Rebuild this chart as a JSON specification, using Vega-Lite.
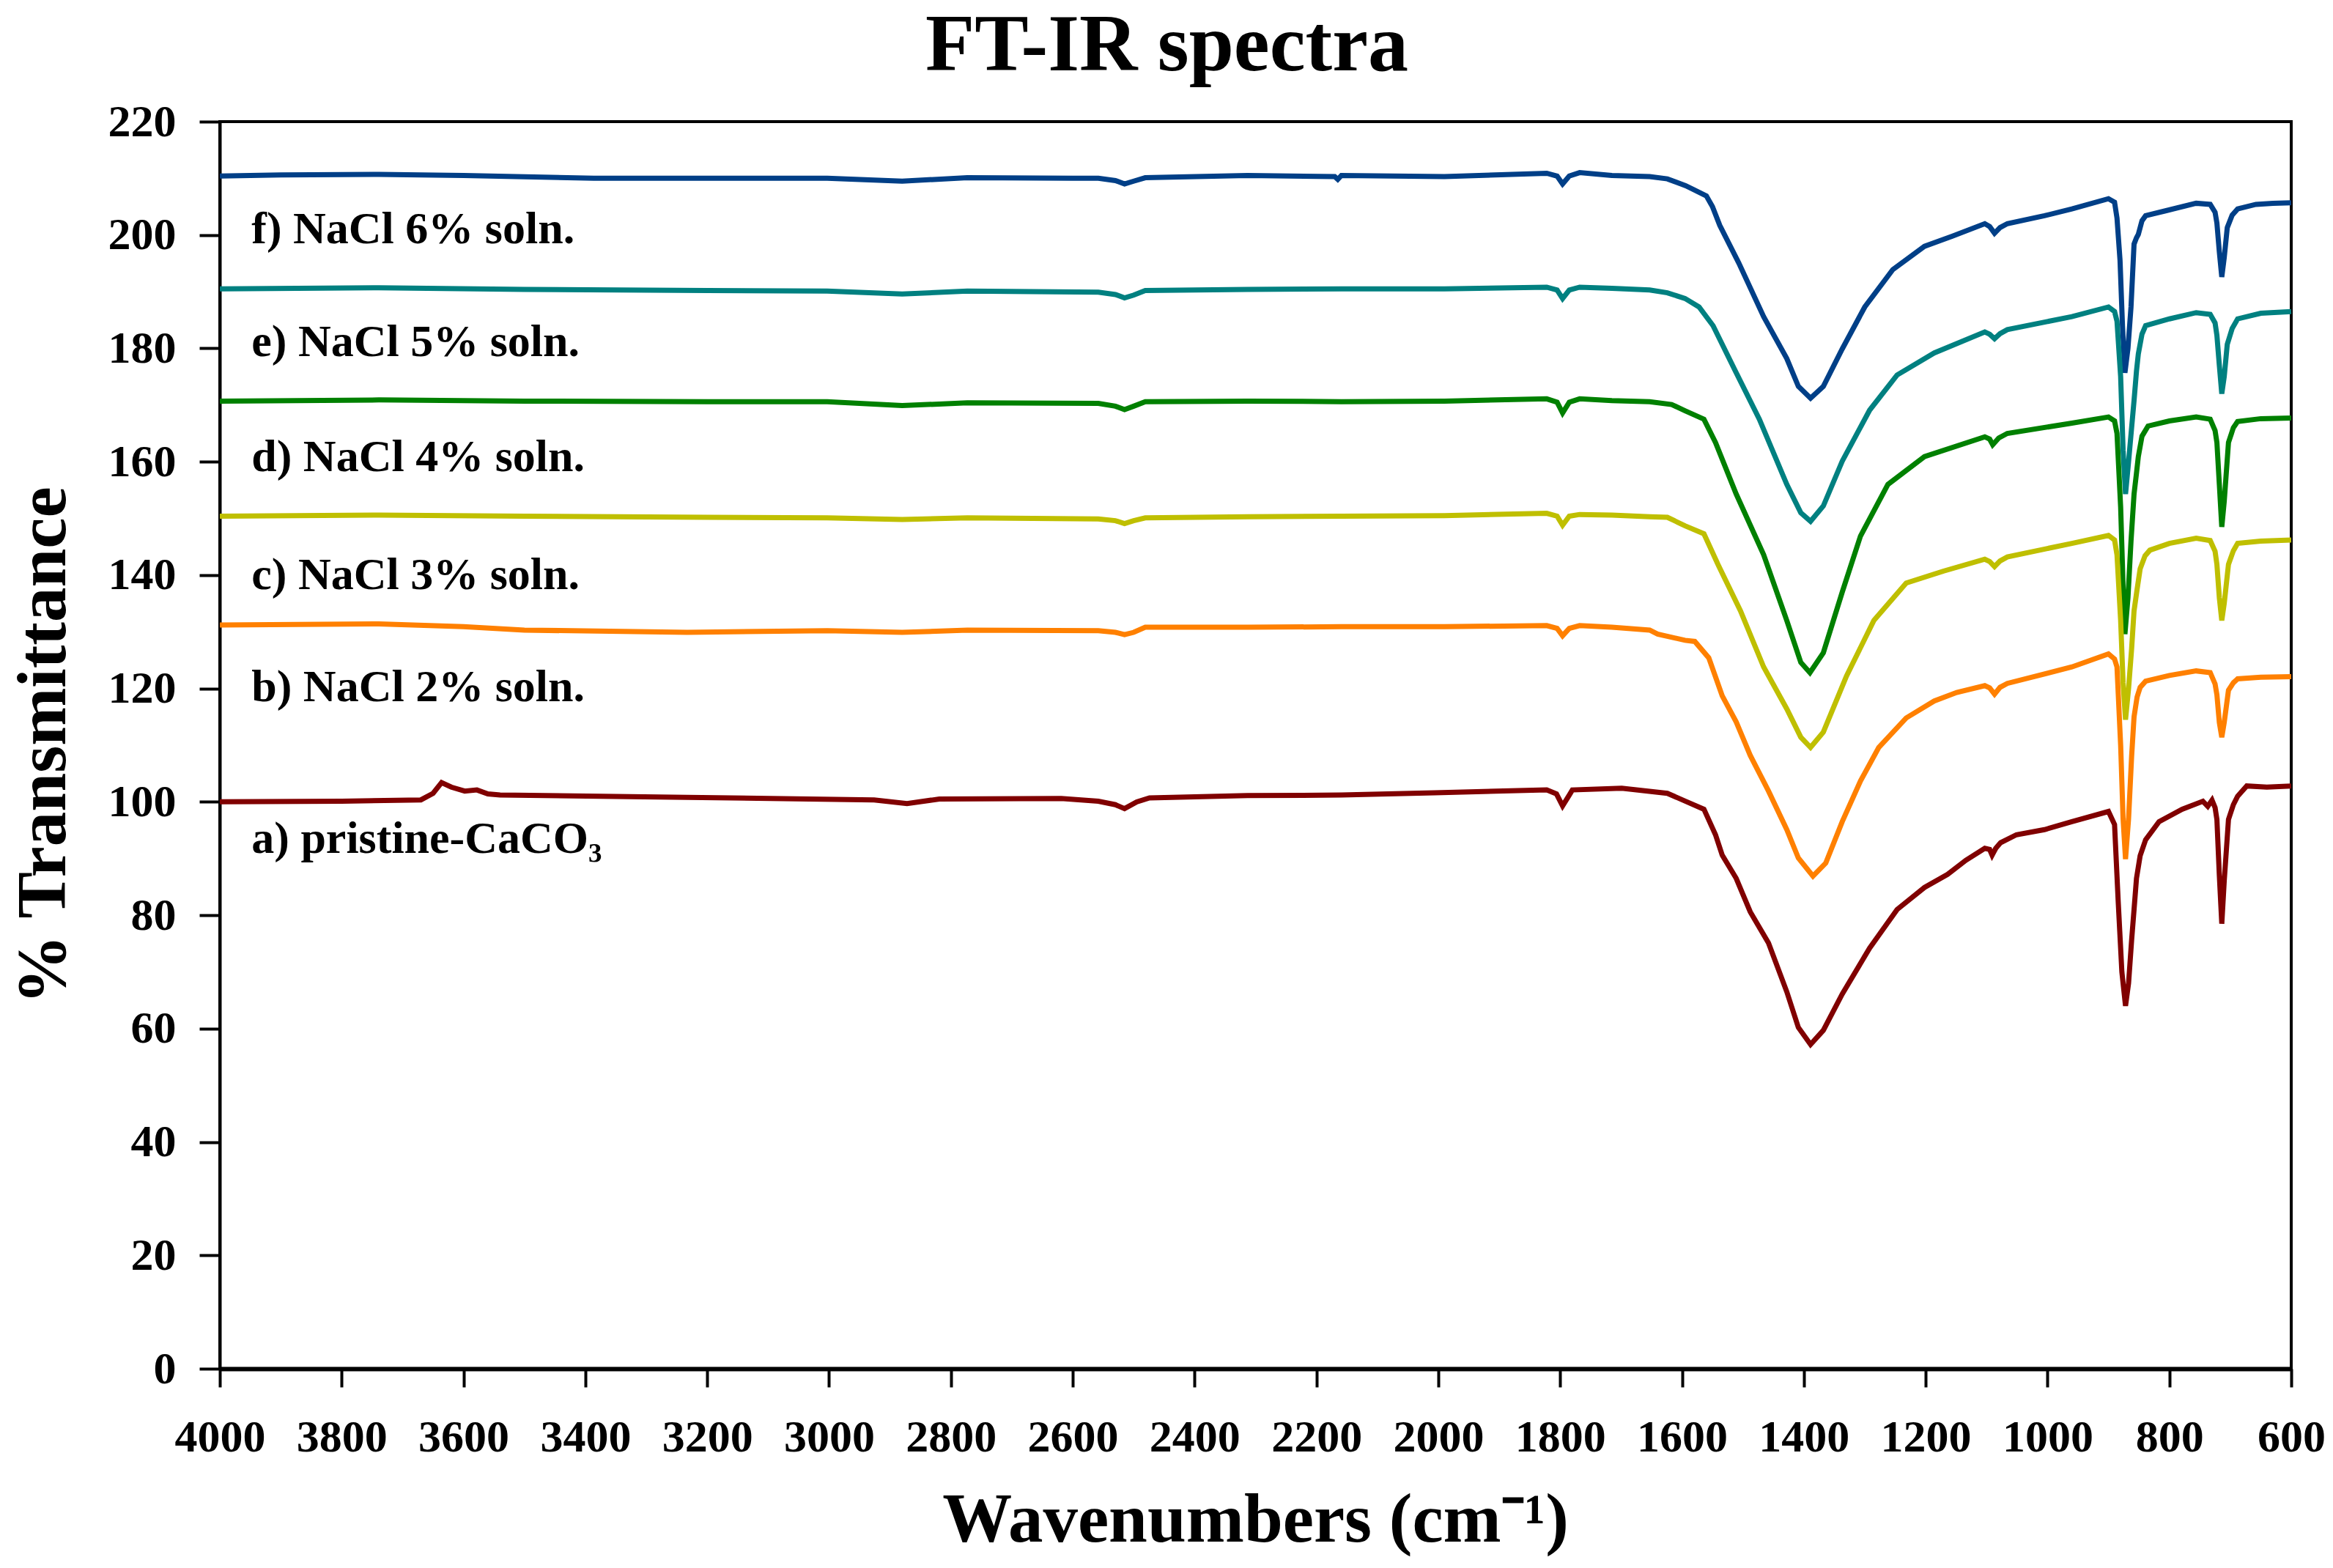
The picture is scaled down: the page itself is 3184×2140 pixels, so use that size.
{
"$schema": "https://vega.github.io/schema/vega-lite/v6.json",
"width": 2827, "height": 1702,
"autosize": {"type": "none"},
"padding": {"left": 300, "top": 166, "right": 57, "bottom": 272},
"background": "white",
"title": {"text": "FT-IR spectra", "font": "Liberation Serif", "fontSize": 110, "fontWeight": "bold", "color": "black", "anchor": "middle", "frame": "group", "dx": -121, "baseline": "alphabetic", "offset": -71},
"config": {"view": {"stroke": "black", "strokeWidth": 4}, "font": "Liberation Serif"},
"datasets": {
"spectra": [
{"s":"f","w":4000,"t":210.4},{"s":"f","w":3900,"t":210.6},{"s":"f","w":3739,"t":210.7},{"s":"f","w":3600,"t":210.5},{"s":"f","w":3386,"t":210.0},{"s":"f","w":3200,"t":210.0},{"s":"f","w":3003,"t":210.0},{"s":"f","w":2880,"t":209.5},{"s":"f","w":2773,"t":210.1},{"s":"f","w":2600,"t":210.0},{"s":"f","w":2558,"t":210.0},{"s":"f","w":2530,"t":209.6},{"s":"f","w":2515,"t":209.0},{"s":"f","w":2500,"t":209.5},{"s":"f","w":2481,"t":210.1},{"s":"f","w":2313,"t":210.5},{"s":"f","w":2170,"t":210.3},{"s":"f","w":2165,"t":209.8},{"s":"f","w":2159,"t":210.5},{"s":"f","w":1990,"t":210.3},{"s":"f","w":1822,"t":210.9},{"s":"f","w":1805,"t":210.4},{"s":"f","w":1796,"t":209.0},{"s":"f","w":1785,"t":210.4},{"s":"f","w":1768,"t":211.0},{"s":"f","w":1715,"t":210.5},{"s":"f","w":1653,"t":210.3},{"s":"f","w":1624,"t":209.9},{"s":"f","w":1594,"t":208.7},{"s":"f","w":1560,"t":206.9},{"s":"f","w":1550,"t":205.0},{"s":"f","w":1538,"t":201.7},{"s":"f","w":1507,"t":195.1},{"s":"f","w":1466,"t":185.6},{"s":"f","w":1428,"t":178.2},{"s":"f","w":1409,"t":173.3},{"s":"f","w":1389,"t":171.2},{"s":"f","w":1368,"t":173.3},{"s":"f","w":1337,"t":179.9},{"s":"f","w":1300,"t":187.3},{"s":"f","w":1254,"t":193.9},{"s":"f","w":1202,"t":198.0},{"s":"f","w":1156,"t":199.8},{"s":"f","w":1103,"t":202.0},{"s":"f","w":1095,"t":201.5},{"s":"f","w":1087,"t":200.3},{"s":"f","w":1078,"t":201.3},{"s":"f","w":1066,"t":202.0},{"s":"f","w":1005,"t":203.4},{"s":"f","w":960,"t":204.6},{"s":"f","w":900,"t":206.4},{"s":"f","w":890,"t":205.8},{"s":"f","w":886,"t":203.0},{"s":"f","w":881,"t":195.5},{"s":"f","w":877,"t":184.0},{"s":"f","w":873,"t":175.7},{"s":"f","w":868,"t":180.0},{"s":"f","w":863,"t":187.3},{"s":"f","w":858,"t":198.4},{"s":"f","w":854,"t":199.5},{"s":"f","w":851,"t":200.1},{"s":"f","w":845,"t":202.5},{"s":"f","w":839,"t":203.4},{"s":"f","w":809,"t":204.2},{"s":"f","w":756,"t":205.6},{"s":"f","w":733,"t":205.4},{"s":"f","w":725,"t":204.0},{"s":"f","w":722,"t":202.1},{"s":"f","w":718,"t":197.0},{"s":"f","w":714,"t":192.6},{"s":"f","w":710,"t":196.0},{"s":"f","w":705,"t":201.3},{"s":"f","w":697,"t":203.5},{"s":"f","w":688,"t":204.6},{"s":"f","w":658,"t":205.4},{"s":"f","w":630,"t":205.6},{"s":"f","w":600,"t":205.7},
{"s":"e","w":4000,"t":190.5},{"s":"e","w":3739,"t":190.7},{"s":"e","w":3500,"t":190.4},{"s":"e","w":3200,"t":190.2},{"s":"e","w":3003,"t":190.1},{"s":"e","w":2880,"t":189.6},{"s":"e","w":2773,"t":190.1},{"s":"e","w":2558,"t":189.9},{"s":"e","w":2530,"t":189.5},{"s":"e","w":2515,"t":188.9},{"s":"e","w":2500,"t":189.4},{"s":"e","w":2481,"t":190.2},{"s":"e","w":2313,"t":190.4},{"s":"e","w":2159,"t":190.5},{"s":"e","w":1990,"t":190.5},{"s":"e","w":1822,"t":190.8},{"s":"e","w":1805,"t":190.3},{"s":"e","w":1796,"t":188.8},{"s":"e","w":1785,"t":190.3},{"s":"e","w":1768,"t":190.8},{"s":"e","w":1715,"t":190.6},{"s":"e","w":1653,"t":190.3},{"s":"e","w":1624,"t":189.8},{"s":"e","w":1595,"t":188.8},{"s":"e","w":1572,"t":187.3},{"s":"e","w":1549,"t":184.0},{"s":"e","w":1511,"t":175.7},{"s":"e","w":1473,"t":167.5},{"s":"e","w":1428,"t":156.0},{"s":"e","w":1405,"t":151.0},{"s":"e","w":1389,"t":149.5},{"s":"e","w":1368,"t":152.2},{"s":"e","w":1337,"t":160.1},{"s":"e","w":1292,"t":169.1},{"s":"e","w":1247,"t":175.3},{"s":"e","w":1186,"t":179.2},{"s":"e","w":1103,"t":182.9},{"s":"e","w":1095,"t":182.5},{"s":"e","w":1087,"t":181.7},{"s":"e","w":1078,"t":182.6},{"s":"e","w":1066,"t":183.3},{"s":"e","w":960,"t":185.6},{"s":"e","w":900,"t":187.3},{"s":"e","w":890,"t":186.5},{"s":"e","w":886,"t":184.8},{"s":"e","w":880,"t":175.0},{"s":"e","w":876,"t":162.0},{"s":"e","w":872,"t":154.3},{"s":"e","w":867,"t":160.0},{"s":"e","w":862,"t":166.0},{"s":"e","w":858,"t":170.8},{"s":"e","w":854,"t":176.0},{"s":"e","w":851,"t":179.0},{"s":"e","w":845,"t":182.5},{"s":"e","w":839,"t":184.0},{"s":"e","w":800,"t":185.2},{"s":"e","w":756,"t":186.3},{"s":"e","w":733,"t":186.0},{"s":"e","w":725,"t":184.5},{"s":"e","w":722,"t":182.3},{"s":"e","w":718,"t":177.0},{"s":"e","w":714,"t":172.0},{"s":"e","w":710,"t":175.0},{"s":"e","w":705,"t":180.7},{"s":"e","w":697,"t":183.5},{"s":"e","w":688,"t":185.2},{"s":"e","w":650,"t":186.2},{"s":"e","w":600,"t":186.5},
{"s":"d","w":4000,"t":170.7},{"s":"d","w":3739,"t":170.9},{"s":"d","w":3500,"t":170.7},{"s":"d","w":3200,"t":170.6},{"s":"d","w":3003,"t":170.6},{"s":"d","w":2880,"t":169.9},{"s":"d","w":2773,"t":170.4},{"s":"d","w":2558,"t":170.3},{"s":"d","w":2530,"t":169.8},{"s":"d","w":2515,"t":169.2},{"s":"d","w":2500,"t":169.8},{"s":"d","w":2481,"t":170.6},{"s":"d","w":2313,"t":170.7},{"s":"d","w":2159,"t":170.6},{"s":"d","w":1990,"t":170.7},{"s":"d","w":1822,"t":171.1},{"s":"d","w":1805,"t":170.5},{"s":"d","w":1796,"t":168.6},{"s":"d","w":1785,"t":170.5},{"s":"d","w":1768,"t":171.1},{"s":"d","w":1715,"t":170.8},{"s":"d","w":1653,"t":170.6},{"s":"d","w":1617,"t":170.1},{"s":"d","w":1595,"t":169.0},{"s":"d","w":1564,"t":167.5},{"s":"d","w":1545,"t":163.4},{"s":"d","w":1511,"t":154.3},{"s":"d","w":1466,"t":143.6},{"s":"d","w":1428,"t":132.0},{"s":"d","w":1405,"t":124.6},{"s":"d","w":1390,"t":122.8},{"s":"d","w":1368,"t":126.3},{"s":"d","w":1337,"t":137.0},{"s":"d","w":1307,"t":146.9},{"s":"d","w":1262,"t":156.0},{"s":"d","w":1202,"t":160.9},{"s":"d","w":1103,"t":164.4},{"s":"d","w":1095,"t":164.0},{"s":"d","w":1090,"t":163.0},{"s":"d","w":1080,"t":164.2},{"s":"d","w":1066,"t":165.0},{"s":"d","w":960,"t":166.8},{"s":"d","w":900,"t":167.9},{"s":"d","w":890,"t":167.2},{"s":"d","w":886,"t":165.0},{"s":"d","w":880,"t":152.0},{"s":"d","w":876,"t":138.0},{"s":"d","w":873,"t":129.6},{"s":"d","w":868,"t":136.0},{"s":"d","w":863,"t":146.0},{"s":"d","w":858,"t":154.3},{"s":"d","w":854,"t":158.0},{"s":"d","w":851,"t":160.9},{"s":"d","w":845,"t":164.5},{"s":"d","w":835,"t":166.3},{"s":"d","w":800,"t":167.2},{"s":"d","w":756,"t":167.9},{"s":"d","w":733,"t":167.5},{"s":"d","w":725,"t":165.5},{"s":"d","w":722,"t":163.4},{"s":"d","w":718,"t":156.0},{"s":"d","w":714,"t":148.5},{"s":"d","w":710,"t":153.0},{"s":"d","w":703,"t":163.4},{"s":"d","w":695,"t":166.0},{"s":"d","w":688,"t":167.1},{"s":"d","w":650,"t":167.6},{"s":"d","w":600,"t":167.7},
{"s":"c","w":4000,"t":150.4},{"s":"c","w":3739,"t":150.6},{"s":"c","w":3500,"t":150.4},{"s":"c","w":3200,"t":150.2},{"s":"c","w":3003,"t":150.1},{"s":"c","w":2880,"t":149.8},{"s":"c","w":2773,"t":150.1},{"s":"c","w":2558,"t":149.9},{"s":"c","w":2530,"t":149.6},{"s":"c","w":2515,"t":149.1},{"s":"c","w":2500,"t":149.6},{"s":"c","w":2481,"t":150.1},{"s":"c","w":2313,"t":150.3},{"s":"c","w":2159,"t":150.4},{"s":"c","w":1990,"t":150.5},{"s":"c","w":1822,"t":150.9},{"s":"c","w":1805,"t":150.4},{"s":"c","w":1796,"t":148.8},{"s":"c","w":1785,"t":150.4},{"s":"c","w":1768,"t":150.7},{"s":"c","w":1715,"t":150.6},{"s":"c","w":1653,"t":150.3},{"s":"c","w":1624,"t":150.2},{"s":"c","w":1595,"t":148.7},{"s":"c","w":1564,"t":147.3},{"s":"c","w":1541,"t":141.9},{"s":"c","w":1504,"t":133.7},{"s":"c","w":1466,"t":123.8},{"s":"c","w":1428,"t":116.4},{"s":"c","w":1405,"t":111.4},{"s":"c","w":1389,"t":109.6},{"s":"c","w":1368,"t":112.3},{"s":"c","w":1330,"t":122.2},{"s":"c","w":1285,"t":132.0},{"s":"c","w":1232,"t":138.6},{"s":"c","w":1171,"t":140.7},{"s":"c","w":1103,"t":142.8},{"s":"c","w":1095,"t":142.4},{"s":"c","w":1087,"t":141.5},{"s":"c","w":1078,"t":142.5},{"s":"c","w":1066,"t":143.2},{"s":"c","w":960,"t":145.6},{"s":"c","w":900,"t":147.0},{"s":"c","w":890,"t":146.2},{"s":"c","w":886,"t":143.6},{"s":"c","w":880,"t":132.0},{"s":"c","w":876,"t":121.0},{"s":"c","w":872,"t":114.5},{"s":"c","w":867,"t":120.0},{"s":"c","w":862,"t":127.0},{"s":"c","w":858,"t":133.7},{"s":"c","w":853,"t":137.5},{"s":"c","w":848,"t":141.1},{"s":"c","w":840,"t":143.4},{"s":"c","w":832,"t":144.4},{"s":"c","w":800,"t":145.6},{"s":"c","w":756,"t":146.5},{"s":"c","w":733,"t":146.1},{"s":"c","w":725,"t":144.2},{"s":"c","w":722,"t":141.9},{"s":"c","w":718,"t":136.0},{"s":"c","w":714,"t":132.0},{"s":"c","w":710,"t":135.0},{"s":"c","w":703,"t":141.9},{"s":"c","w":695,"t":144.3},{"s":"c","w":688,"t":145.6},{"s":"c","w":650,"t":146.0},{"s":"c","w":600,"t":146.2},
{"s":"b","w":4000,"t":131.2},{"s":"b","w":3739,"t":131.4},{"s":"b","w":3600,"t":130.9},{"s":"b","w":3500,"t":130.3},{"s":"b","w":3233,"t":129.9},{"s":"b","w":3003,"t":130.2},{"s":"b","w":2880,"t":129.9},{"s":"b","w":2773,"t":130.3},{"s":"b","w":2558,"t":130.2},{"s":"b","w":2530,"t":129.9},{"s":"b","w":2515,"t":129.5},{"s":"b","w":2500,"t":129.9},{"s":"b","w":2481,"t":130.8},{"s":"b","w":2313,"t":130.8},{"s":"b","w":2159,"t":130.9},{"s":"b","w":1990,"t":130.9},{"s":"b","w":1822,"t":131.1},{"s":"b","w":1805,"t":130.6},{"s":"b","w":1796,"t":129.3},{"s":"b","w":1785,"t":130.6},{"s":"b","w":1768,"t":131.1},{"s":"b","w":1715,"t":130.8},{"s":"b","w":1653,"t":130.3},{"s":"b","w":1640,"t":129.6},{"s":"b","w":1595,"t":128.5},{"s":"b","w":1579,"t":128.3},{"s":"b","w":1556,"t":125.4},{"s":"b","w":1534,"t":118.7},{"s":"b","w":1511,"t":114.1},{"s":"b","w":1488,"t":108.2},{"s":"b","w":1458,"t":101.9},{"s":"b","w":1428,"t":95.1},{"s":"b","w":1409,"t":90.1},{"s":"b","w":1385,"t":86.9},{"s":"b","w":1364,"t":89.2},{"s":"b","w":1337,"t":96.5},{"s":"b","w":1307,"t":103.7},{"s":"b","w":1277,"t":109.6},{"s":"b","w":1232,"t":114.8},{"s":"b","w":1186,"t":117.8},{"s":"b","w":1149,"t":119.3},{"s":"b","w":1103,"t":120.5},{"s":"b","w":1095,"t":120.1},{"s":"b","w":1087,"t":119.0},{"s":"b","w":1078,"t":120.2},{"s":"b","w":1066,"t":120.9},{"s":"b","w":960,"t":123.8},{"s":"b","w":900,"t":126.1},{"s":"b","w":890,"t":125.2},{"s":"b","w":886,"t":123.8},{"s":"b","w":880,"t":110.0},{"s":"b","w":876,"t":97.0},{"s":"b","w":872,"t":89.9},{"s":"b","w":867,"t":97.0},{"s":"b","w":862,"t":108.0},{"s":"b","w":858,"t":115.0},{"s":"b","w":853,"t":118.5},{"s":"b","w":848,"t":120.2},{"s":"b","w":839,"t":121.3},{"s":"b","w":800,"t":122.3},{"s":"b","w":756,"t":123.1},{"s":"b","w":733,"t":122.8},{"s":"b","w":725,"t":120.8},{"s":"b","w":722,"t":118.9},{"s":"b","w":718,"t":114.0},{"s":"b","w":714,"t":111.4},{"s":"b","w":710,"t":114.0},{"s":"b","w":703,"t":119.7},{"s":"b","w":695,"t":121.0},{"s":"b","w":688,"t":121.7},{"s":"b","w":650,"t":122.0},{"s":"b","w":600,"t":122.1},
{"s":"a","w":4000,"t":100.0},{"s":"a","w":3800,"t":100.1},{"s":"a","w":3670,"t":100.35},{"s":"a","w":3650,"t":101.5},{"s":"a","w":3636,"t":103.4},{"s":"a","w":3620,"t":102.6},{"s":"a","w":3598,"t":101.9},{"s":"a","w":3578,"t":102.1},{"s":"a","w":3560,"t":101.4},{"s":"a","w":3540,"t":101.2},{"s":"a","w":3233,"t":100.8},{"s":"a","w":2926,"t":100.35},{"s":"a","w":2872,"t":99.7},{"s":"a","w":2819,"t":100.5},{"s":"a","w":2619,"t":100.6},{"s":"a","w":2558,"t":100.1},{"s":"a","w":2530,"t":99.5},{"s":"a","w":2515,"t":98.8},{"s":"a","w":2495,"t":100.0},{"s":"a","w":2474,"t":100.7},{"s":"a","w":2313,"t":101.1},{"s":"a","w":2159,"t":101.2},{"s":"a","w":2006,"t":101.6},{"s":"a","w":1822,"t":102.1},{"s":"a","w":1806,"t":101.4},{"s":"a","w":1796,"t":99.3},{"s":"a","w":1785,"t":101.2},{"s":"a","w":1780,"t":102.1},{"s":"a","w":1699,"t":102.4},{"s":"a","w":1624,"t":101.5},{"s":"a","w":1594,"t":100.1},{"s":"a","w":1564,"t":98.7},{"s":"a","w":1545,"t":94.2},{"s":"a","w":1534,"t":90.6},{"s":"a","w":1511,"t":86.5},{"s":"a","w":1488,"t":80.6},{"s":"a","w":1458,"t":75.1},{"s":"a","w":1428,"t":66.5},{"s":"a","w":1409,"t":60.2},{"s":"a","w":1389,"t":57.2},{"s":"a","w":1368,"t":59.7},{"s":"a","w":1337,"t":66.1},{"s":"a","w":1292,"t":74.2},{"s":"a","w":1247,"t":81.0},{"s":"a","w":1202,"t":84.9},{"s":"a","w":1164,"t":87.2},{"s":"a","w":1134,"t":89.7},{"s":"a","w":1103,"t":91.8},{"s":"a","w":1095,"t":91.6},{"s":"a","w":1091,"t":90.6},{"s":"a","w":1085,"t":91.8},{"s":"a","w":1077,"t":92.8},{"s":"a","w":1051,"t":94.2},{"s":"a","w":1005,"t":95.1},{"s":"a","w":960,"t":96.5},{"s":"a","w":900,"t":98.3},{"s":"a","w":890,"t":96.0},{"s":"a","w":884,"t":82.4},{"s":"a","w":878,"t":70.0},{"s":"a","w":872,"t":64.0},{"s":"a","w":867,"t":68.0},{"s":"a","w":862,"t":75.6},{"s":"a","w":858,"t":81.0},{"s":"a","w":854,"t":86.5},{"s":"a","w":848,"t":90.5},{"s":"a","w":839,"t":93.3},{"s":"a","w":817,"t":96.5},{"s":"a","w":779,"t":98.7},{"s":"a","w":745,"t":100.1},{"s":"a","w":737,"t":99.2},{"s":"a","w":730,"t":100.3},{"s":"a","w":725,"t":99.0},{"s":"a","w":722,"t":96.9},{"s":"a","w":718,"t":87.0},{"s":"a","w":714,"t":78.5},{"s":"a","w":710,"t":86.0},{"s":"a","w":703,"t":96.9},{"s":"a","w":695,"t":99.5},{"s":"a","w":688,"t":101.0},{"s":"a","w":673,"t":102.8},{"s":"a","w":640,"t":102.6},{"s":"a","w":600,"t":102.8}
],
"labels": [
{"w":3948,"t":198.5,"label":"f) NaCl 6% soln."},
{"w":3948,"t":178.6,"label":"e) NaCl 5% soln."},
{"w":3948,"t":158.3,"label":"d) NaCl 4% soln."},
{"w":3948,"t":137.5,"label":"c) NaCl 3% soln."},
{"w":3948,"t":117.8,"label":"b) NaCl 2% soln."},
{"w":3948,"t":91.0,"label":"a) pristine-CaCO₃"}
]
},
"layer": [
{
"data": {"name": "spectra"},
"mark": {"type": "line", "strokeWidth": 7, "interpolate": "linear"},
"encoding": {
"x": {"field": "w", "type": "quantitative", "scale": {"domain": [600, 4000], "reverse": true, "nice": false, "zero": false},
"axis": {"values": [600,800,1000,1200,1400,1600,1800,2000,2200,2400,2600,2800,3000,3200,3400,3600,3800,4000], "format": "d", "grid": false, "labelFont": "Liberation Serif", "labelFontSize": 62, "labelFontWeight": "bold", "labelColor": "black", "labelPadding": 38, "labelFlush": false, "labelOverlap": false, "tickColor": "black", "tickSize": 25, "tickWidth": 4, "domainColor": "black", "domainWidth": 6, "title": "Wavenumbers (cm⁻¹)", "titleFont": "Liberation Serif", "titleFontSize": 95, "titleFontWeight": "bold", "titleColor": "black", "titleBaseline": "alphabetic", "titleX": 1413, "titleY": 235, "titleAlign": "center"}},
"y": {"field": "t", "type": "quantitative", "scale": {"domain": [0, 220], "nice": false},
"axis": {"values": [0,20,40,60,80,100,120,140,160,180,200,220], "format": "d", "grid": false, "labelFont": "Liberation Serif", "labelFontSize": 62, "labelFontWeight": "bold", "labelColor": "black", "labelPadding": 32, "labelFlush": false, "labelOverlap": false, "tickColor": "black", "tickSize": 28, "tickWidth": 4, "domainColor": "black", "domainWidth": 4, "title": "% Transmittance", "titleFont": "Liberation Serif", "titleFontSize": 95, "titleFontWeight": "bold", "titleColor": "black", "titleAngle": -90, "titleBaseline": "alphabetic", "titleAlign": "center", "titleX": -212, "titleY": 851}},
"color": {"field": "s", "type": "nominal", "scale": {"domain": ["a","b","c","d","e","f"], "range": ["#800000","#FF8000","#BFBF00","#008000","#008080","#003F87"]}, "legend": null},
"detail": {"field": "s"}
}
},
{
"data": {"name": "labels"},
"mark": {"type": "text", "font": "Liberation Serif", "fontSize": 62, "fontWeight": "bold", "color": "black", "align": "left", "baseline": "alphabetic"},
"encoding": {
"x": {"field": "w", "type": "quantitative"},
"y": {"field": "t", "type": "quantitative"},
"text": {"field": "label"}
}
}
]
}
